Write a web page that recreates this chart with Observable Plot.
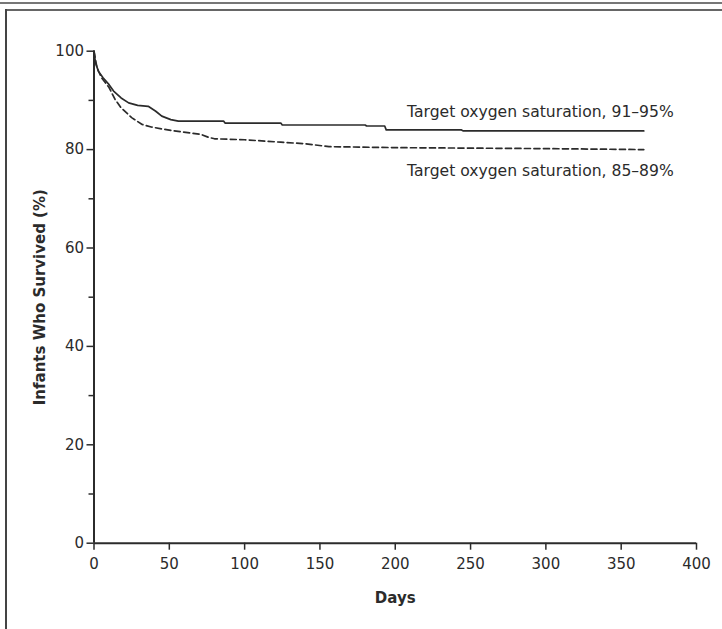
<!DOCTYPE html>
<html>
<head>
<meta charset="utf-8">
<script src="https://cdn.jsdelivr.net/npm/d3@7"></script>
<script src="https://cdn.jsdelivr.net/npm/@observablehq/plot@0.6"></script>
<style>
  html, body { margin: 0; padding: 0; background: #fff; }
  #wrap { position: relative; width: 722px; height: 629px; overflow: hidden; }
  .fr { position: absolute; background: #555; }
</style>
</head>
<body>
<div id="wrap">
  <div class="fr" style="left:0;top:2px;width:722px;height:2px;background:#777"></div>
  <div class="fr" style="left:5px;top:9px;width:717px;height:2px;background:#666"></div>
  <div class="fr" style="left:5px;top:9px;width:2px;height:620px;background:#444"></div>
</div>
<script>
// ---- data ----
const seriesNames = ["Target oxygen saturation, 91\u201395%", "Target oxygen saturation, 85\u201389%"];

const days91 = [0, 1, 3, 6, 10, 13, 18, 23, 29, 36, 41, 45, 51, 56, 86, 87, 124, 125, 180, 181, 193, 194, 244, 245, 365];
const surv91 = [100, 97.6, 95.9, 94.6, 93.2, 91.9, 90.5, 89.5, 89.0, 88.8, 87.8, 86.8, 86.1, 85.8, 85.8, 85.4, 85.4, 85.0, 85.0, 84.8, 84.8, 84.0, 84.0, 83.8, 83.8];

const days85 = [0, 2, 5, 10, 14, 18, 25, 32, 38, 47, 58, 71, 76, 80, 100, 124, 140, 156, 200, 300, 365];
const surv85 = [100, 96.6, 94.6, 92.6, 90.2, 88.5, 86.5, 85.1, 84.6, 84.1, 83.6, 83.1, 82.5, 82.2, 82.0, 81.5, 81.2, 80.6, 80.4, 80.2, 80.0];

const xTicks = [0, 50, 100, 150, 200, 250, 300, 350, 400];
const yTicks = [0, 20, 40, 60, 80, 100];
const yMinorTicks = [10, 30, 50, 70, 90];
const xTitle = "Days";
const yTitle = "Infants Who Survived (%)";

// ---- build tables ----
const s91 = days91.map((d, i) => ({day: d, surv: surv91[i], group: seriesNames[0]}));
const s85 = days85.map((d, i) => ({day: d, surv: surv85[i], group: seriesNames[1]}));

const ink = "#2b2b2b";
const font = "'DejaVu Sans', sans-serif";

const chart = Plot.plot({
  width: 722,
  height: 629,
  marginLeft: 93.5,
  marginRight: 26,
  marginTop: 50.7,
  marginBottom: 86.3,
  style: {fontFamily: font, fontSize: "15px", color: ink, background: "transparent", overflow: "visible"},
  x: {domain: [0, 400]},
  y: {domain: [0, 100]},
  marks: [
    Plot.axisX({ticks: xTicks, tickSize: 7, tickPadding: 8, label: null, strokeWidth: 1.5, fill: ink, fontSize: 15}),
    Plot.axisY({ticks: yTicks, tickSize: 7, tickPadding: 3, label: null, strokeWidth: 1.5, fill: ink, fontSize: 15}),
    Plot.axisY({ticks: yMinorTicks, tickSize: 5, tickFormat: () => "", label: null, strokeWidth: 1.5}),
    Plot.ruleX([0], {stroke: ink, strokeWidth: 2}),
    Plot.ruleY([0], {stroke: ink, strokeWidth: 2}),
    Plot.line(s91, {x: "day", y: "surv", stroke: ink, strokeWidth: 1.7}),
    Plot.line(s85, {x: "day", y: "surv", stroke: ink, strokeWidth: 1.7, strokeDasharray: "6,3.5"}),
    Plot.text(s91, Plot.selectLast({x: "day", y: "surv", text: "group", textAnchor: "end", dx: 30, dy: -19, fill: ink, fontSize: 15.6})),
    Plot.text(s85, Plot.selectLast({x: "day", y: "surv", text: "group", textAnchor: "end", dx: 30, dy: 21, fill: ink, fontSize: 15.6})),
    Plot.text([xTitle], {text: d => d, frameAnchor: "bottom", dy: 60, fontWeight: "bold", fontSize: 15, fill: ink}),
    Plot.text([yTitle], {text: d => d, frameAnchor: "left", textAnchor: "middle", dx: -54, rotate: -90, fontWeight: "bold", fontSize: 15, fill: ink})
  ]
});
chart.style.position = "absolute";
chart.style.left = "0";
chart.style.top = "0";
document.getElementById("wrap").prepend(chart);
</script>
</body>
</html>
